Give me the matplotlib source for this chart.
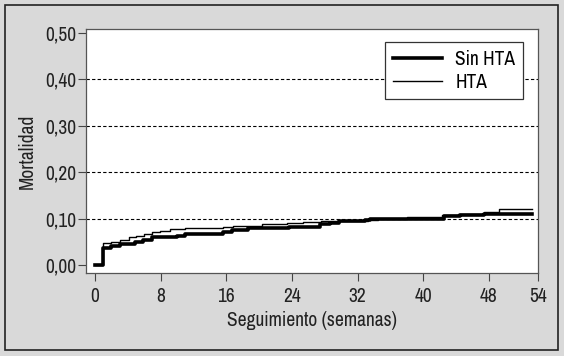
import matplotlib
matplotlib.use('Agg')
import matplotlib.pyplot as plt
from matplotlib.patches import Rectangle

plt.rcParams['font.family'] = ['Archivo Narrow', 'DejaVu Sans']

# step points (weeks, mortality)
sin_hta_t = [0, 1.0, 2.0, 3.0, 4.9, 5.9, 6.9, 10.0, 11.0, 15.6, 16.7, 18.7,
             23.6, 27.4, 28.7, 29.7, 32.9, 33.5, 36.0, 42.5, 44.5, 47.4, 53.3]
sin_hta_v = [0.0, 0.036, 0.041, 0.045, 0.050, 0.055, 0.060, 0.063, 0.068, 0.072, 0.075, 0.079,
             0.083, 0.088, 0.091, 0.094, 0.097, 0.099, 0.100, 0.106, 0.108, 0.110, 0.110]

hta_t = [0, 1.0, 2.0, 3.0, 4.1, 5.0, 6.0, 6.9, 7.9, 9.1, 11.0, 15.6, 16.8, 20.3,
         23.4, 25.4, 27.6, 33.3, 34.5, 38.0, 42.3, 44.3, 47.4, 49.2, 53.3]
hta_v = [0.0, 0.047, 0.050, 0.054, 0.060, 0.063, 0.068, 0.071, 0.074, 0.077, 0.079, 0.083, 0.085, 0.088,
         0.090, 0.093, 0.095, 0.098, 0.100, 0.104, 0.108, 0.111, 0.115, 0.120, 0.120]

x_ticks = [0, 8, 16, 24, 32, 40, 48, 54]
y_ticks = [0.0, 0.1, 0.2, 0.3, 0.4, 0.5]
y_labels = ['0,00', '0,10', '0,20', '0,30', '0,40', '0,50']

fig = plt.figure(figsize=(5.64, 3.56), dpi=100)
fig.patch.set_facecolor('#d9d9d9')
fig.patches.append(Rectangle((5 / 564, 6 / 356), 553 / 564, 345 / 356, transform=fig.transFigure,
                             fill=False, edgecolor='#222222', linewidth=1.2))

ax = fig.add_axes([0.1525, 0.2331, 0.8014, 0.6854])
ax.set_facecolor('white')

for y in y_ticks[1:-1]:
    ax.axhline(y, color='black', linestyle=(0, (3, 2)), linewidth=0.8, zorder=1)

ax.step(sin_hta_t, sin_hta_v, where='post', color='black', linewidth=2.6, label='Sin HTA', zorder=3)
ax.step(hta_t, hta_v, where='post', color='black', linewidth=1.0, label='HTA', zorder=4)

ax.set_xlim(-1.1, 54)
ax.set_ylim(-0.017, 0.508)
ax.set_xticks(x_ticks)
ax.set_yticks(y_ticks)
ax.set_yticklabels(y_labels)
ax.tick_params(labelsize=14, length=6, width=0.8, color='#444444', labelcolor='#222222')
ax.tick_params(axis='x', pad=4)
ax.tick_params(axis='y', pad=1)

for s in ax.spines.values():
    s.set_color('#555555')
    s.set_linewidth(0.9)

ax.set_xlabel('Seguimiento (semanas)', fontsize=14, color='#222222', labelpad=4)
ax.set_ylabel('Mortalidad', fontsize=14, color='#222222', labelpad=6)

leg = ax.legend(loc='upper right', bbox_to_anchor=(0.967, 0.947), borderaxespad=0, fontsize=14,
                frameon=True, fancybox=False, handlelength=2.5, borderpad=0.4,
                labelspacing=0.2, handletextpad=0.7)
leg.get_frame().set_edgecolor('#333333')
leg.get_frame().set_linewidth(0.9)
leg.get_frame().set_alpha(1)

fig.savefig('out.png', dpi=100, facecolor=fig.get_facecolor())
